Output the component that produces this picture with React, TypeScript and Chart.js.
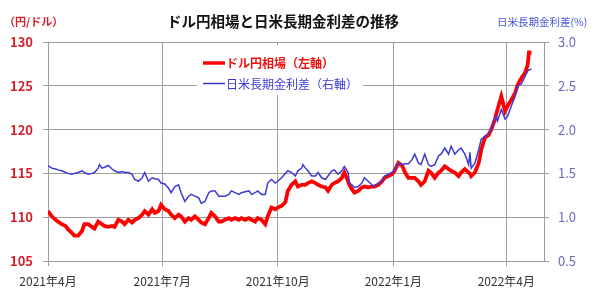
import React, { useEffect, useRef } from "react";
import { Chart, registerables } from "chart.js";

Chart.register(...registerables);

const JP = '"Noto Sans CJK JP", "Noto Sans", sans-serif';

const chartTitle = "ドル円相場と日米長期金利差の推移";
const leftAxisTitle = "（円/ドル）";
const rightAxisTitle = "日米長期金利差(%)";
const seriesNames = ["ドル円相場（左軸）", "日米長期金利差（右軸）"];

// x tick positions: days since 2021-04-01
const tickDays = [0, 91, 183, 275, 365];
const tickLabels = ["2021年4月", "2021年7月", "2021年10月", "2022年1月", "2022年4月"];

// observation days (since 2021-04-01)
const days = [
  0, 3, 6, 8, 11, 14, 16, 19, 21, 24,
  27, 29, 32, 35, 37, 40, 41, 43, 45, 48,
  51, 53, 56, 59, 61, 64, 67, 69, 72, 75,
  77, 80, 83, 85, 88, 90, 93, 96, 98, 101,
  104, 106, 109, 112, 114, 117, 120, 122, 125, 128,
  130, 133, 136, 138, 141, 144, 146, 149, 152, 154,
  157, 160, 162, 165, 167, 170, 173, 175, 178, 181,
  183, 186, 189, 191, 194, 197, 199, 202, 203, 205,
  207, 210, 213, 215, 218, 221, 223, 226, 228, 231,
  234, 236, 239, 240, 242, 244, 247, 250, 252, 255,
  258, 260, 263, 266, 268, 271, 274, 276, 279, 282,
  284, 287, 290, 292, 295, 297, 300, 303, 305, 308,
  311, 313, 316, 319, 321, 324, 327, 329, 332, 335,
  336, 337, 340, 343, 345, 348, 351, 353, 356, 357,
  358, 361, 364, 366, 369, 372, 374, 377, 380, 382,
  383, 385,
];

// USD/JPY (left axis)
const usdjpy = [
  110.7, 110.1, 109.7, 109.5, 109.2, 109.0, 108.6, 108.2, 107.9, 107.9,
  108.4, 109.2, 109.2, 108.9, 108.7, 109.5, 109.4, 109.2, 109.0, 108.9,
  109.0, 108.9, 109.7, 109.5, 109.2, 109.7, 109.4, 109.7, 109.9, 110.3,
  110.7, 110.3, 110.9, 110.5, 110.7, 111.4, 110.9, 110.7, 110.3, 109.9,
  110.3, 110.1, 109.5, 109.9, 109.7, 110.1, 109.7, 109.4, 109.2, 109.9,
  110.5, 110.1, 109.5, 109.5, 109.7, 109.9, 109.7, 109.9, 109.7, 109.9,
  109.7, 109.9, 109.7, 109.5, 109.9, 109.7, 109.2, 110.1, 111.1, 110.9,
  111.1, 111.3, 111.7, 113.0, 113.7, 114.1, 113.5, 113.7, 113.7, 113.7,
  113.9, 114.1, 113.9, 113.7, 113.5, 113.4, 113.0, 113.7, 113.9, 114.1,
  114.5, 115.1, 114.1, 113.7, 113.2, 112.8, 113.0, 113.4, 113.5, 113.4,
  113.5, 113.5, 113.7, 114.1, 114.5, 114.7, 114.9, 115.3, 116.2, 115.9,
  115.2, 114.5, 114.5, 114.5, 114.1, 113.7, 114.1, 115.3, 115.1, 114.5,
  115.1, 115.3, 115.8, 115.5, 115.3, 115.1, 114.7, 115.1, 115.5, 115.1,
  115.0, 114.7, 115.1, 116.2, 117.7, 119.1, 119.4, 120.0, 121.2, 121.8,
  122.3, 123.8, 122.1, 122.7, 123.4, 124.2, 125.1, 125.9, 126.5, 127.4,
  128.8, 128.8,
];

// JP-US long-term rate spread, % (right axis)
const spread = [
  1.59, 1.56, 1.55, 1.54, 1.53, 1.51, 1.50, 1.49, 1.50, 1.51,
  1.53, 1.51, 1.49, 1.50, 1.51, 1.56, 1.60, 1.56, 1.57, 1.59,
  1.55, 1.53, 1.51, 1.52, 1.51, 1.51, 1.49, 1.43, 1.41, 1.45,
  1.51, 1.41, 1.45, 1.44, 1.43, 1.39, 1.38, 1.33, 1.28, 1.35,
  1.37, 1.28, 1.18, 1.24, 1.26, 1.24, 1.22, 1.16, 1.18, 1.28,
  1.30, 1.30, 1.24, 1.24, 1.24, 1.26, 1.30, 1.28, 1.26, 1.28,
  1.29, 1.30, 1.26, 1.28, 1.30, 1.26, 1.26, 1.39, 1.43, 1.39,
  1.41, 1.45, 1.50, 1.53, 1.51, 1.47, 1.53, 1.56, 1.60, 1.56,
  1.53, 1.47, 1.47, 1.51, 1.45, 1.43, 1.47, 1.53, 1.54, 1.49,
  1.53, 1.58, 1.51, 1.39, 1.37, 1.34, 1.35, 1.39, 1.45, 1.41,
  1.37, 1.35, 1.39, 1.41, 1.47, 1.49, 1.51, 1.54, 1.62, 1.60,
  1.61, 1.61, 1.66, 1.72, 1.62, 1.60, 1.72, 1.60, 1.58, 1.60,
  1.70, 1.72, 1.79, 1.72, 1.81, 1.72, 1.77, 1.79, 1.72, 1.60,
  1.74, 1.56, 1.62, 1.77, 1.89, 1.92, 1.96, 2.00, 2.13, 2.15,
  2.10, 2.23, 2.12, 2.15, 2.27, 2.38, 2.50, 2.52, 2.61, 2.67,
  2.68, 2.69,
];

const RED = "#ff0000";
const BLUE = "#3b3bd4";
const AXIS_RED = "#d81e2c";
const AXIS_BLUE = "#6a6ac2";
const GRID = "#9c9c9c";

const overlay = {
  id: "overlay",
  beforeDatasetsDraw(chart: any) {
    const ctx = chart.ctx;
    ctx.save();
    ctx.fillStyle = "#ffffff";
    ctx.fillRect(197, 45, 166, 50);
    ctx.restore();
  },
  afterDraw(chart: any) {
    const ctx = chart.ctx;
    ctx.save();
    ctx.textBaseline = "middle";
    // main title
    ctx.fillStyle = "#111111";
    ctx.font = `bold 14.5px ${JP}`;
    ctx.textAlign = "center";
    ctx.fillText(chartTitle, 283, 21);
    // left axis title
    ctx.fillStyle = AXIS_RED;
    ctx.font = `bold 11px ${JP}`;
    ctx.textAlign = "left";
    ctx.fillText(leftAxisTitle, 4, 22);
    // right axis title
    ctx.fillStyle = "#4a56d0";
    ctx.font = `10.5px ${JP}`;
    ctx.fillText(rightAxisTitle, 497, 22);
    // legend
    const ds = chart.data.datasets;
    const rows = [
      { y: 63, color: RED, w: 3.5, font: `bold 12px ${JP}`, text: ds[1].label, tc: "#ee1111" },
      { y: 83.5, color: BLUE, w: 1.5, font: `12px ${JP}`, text: ds[0].label, tc: "#3b3bd4" },
    ];
    rows.forEach((r) => {
      ctx.strokeStyle = r.color;
      ctx.lineWidth = r.w;
      ctx.beginPath();
      ctx.moveTo(203, r.y);
      ctx.lineTo(225, r.y);
      ctx.stroke();
      ctx.fillStyle = r.tc;
      ctx.font = r.font;
      ctx.fillText(r.text, 226, r.y + 0.5);
    });
    ctx.restore();
  },
};

export default function App() {
  const ref = useRef<HTMLCanvasElement | null>(null);

  useEffect(() => {
    if (!ref.current) return;
    const chart = new Chart(ref.current, {
      type: "line",
      data: {
        datasets: [
          {
            label: seriesNames[1],
            data: days.map((d, i) => ({ x: d, y: spread[i] })),
            borderColor: BLUE,
            borderWidth: 1.5,
            pointRadius: 0,
            tension: 0,
            yAxisID: "y1",
            order: 0,
          },
          {
            label: seriesNames[0],
            data: days.map((d, i) => ({ x: d, y: usdjpy[i] })),
            borderColor: RED,
            borderWidth: 3.8,
            pointRadius: 0,
            tension: 0,
            yAxisID: "y",
            order: 1,
          },
        ],
      },
      options: {
        animation: false,
        responsive: false,
        devicePixelRatio: 1,
        layout: { padding: { top: 42, left: 0, right: 0, bottom: 0 } },
        plugins: {
          legend: { display: false },
          title: { display: false },
          tooltip: { enabled: false },
        },
        scales: {
          x: {
            type: "linear",
            min: 0,
            max: 395,
            afterBuildTicks: (scale: any) => {
              scale.ticks = tickDays.map((v) => ({ value: v }));
            },
            afterFit: (scale: any) => {
              scale.height = 40;
            },
            ticks: {
              autoSkip: false,
              maxRotation: 0,
              padding: 8,
              color: "#333333",
              font: { family: JP, size: 12 },
              callback: (v: any) => {
                const i = tickDays.indexOf(Number(v));
                return i >= 0 ? tickLabels[i] : "";
              },
            },
            grid: { color: GRID, lineWidth: 1, tickLength: 5 },
            border: { color: GRID },
          },
          y: {
            position: "left",
            min: 105,
            max: 130,
            afterFit: (scale: any) => {
              scale.width = 48;
            },
            ticks: {
              stepSize: 5,
              padding: 10,
              color: AXIS_RED,
              font: { family: JP, size: 13, weight: "bold" },
            },
            grid: { color: GRID, lineWidth: 1, tickLength: 5 },
            border: { color: GRID },
          },
          y1: {
            position: "right",
            min: 0.5,
            max: 3.0,
            afterFit: (scale: any) => {
              scale.width = 56;
            },
            ticks: {
              stepSize: 0.5,
              padding: 9,
              color: AXIS_BLUE,
              font: { family: JP, size: 13 },
              callback: (v: any) => Number(v).toFixed(1),
            },
            grid: { drawOnChartArea: false, color: GRID, tickLength: 5 },
            border: { color: GRID },
          },
        },
      },
      plugins: [overlay],
    } as any);
    return () => chart.destroy();
  }, []);

  return (
    <div style={{ position: "absolute", left: 0, top: 0, width: 600, height: 301, background: "#fff" }}>
      <canvas ref={ref} width={600} height={301} style={{ display: "block", width: 600, height: 301 }} />
    </div>
  );
}
